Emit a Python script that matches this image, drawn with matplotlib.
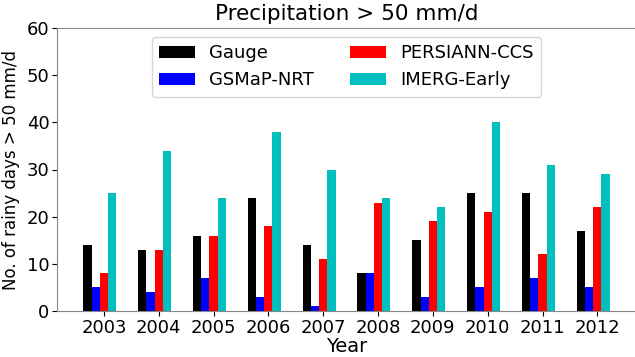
import matplotlib.pyplot as plt
import numpy as np

years = [2003, 2004, 2005, 2006, 2007, 2008, 2009, 2010, 2011, 2012]
gauge = [14, 13, 16, 24, 14, 8, 15, 25, 25, 17]
gsmap = [5, 4, 7, 3, 1, 8, 3, 5, 7, 5]
persiann = [8, 13, 16, 18, 11, 23, 19, 21, 12, 22]
imerg = [25, 34, 24, 38, 30, 24, 22, 40, 31, 29]

x = np.array(years)
w = 0.15

fig = plt.figure(figsize=(6.35, 3.57), dpi=100)
ax = fig.add_axes([57/635, 46/357, 579/635, 283/357])

ax.bar(x - 2*w, gauge, w, color='k', label='Gauge')
ax.bar(x - w, gsmap, w, color='b', label='GSMaP-NRT')
ax.bar(x, persiann, w, color='r', label='PERSIANN-CCS')
ax.bar(x + w, imerg, w, color='c', label='IMERG-Early')

ax.set_ylim(0, 60)
ax.set_xticks(years)
ax.tick_params(labelsize=13, pad=2)
for s in ax.spines.values():
    s.set_color('#888888')
ax.set_title('Precipitation > 50 mm/d', fontsize=15.5)
ax.set_xlabel('Year', fontsize=14, labelpad=0)
ax.set_ylabel('No. of rainy days > 50 mm/d', fontsize=12, labelpad=5)
ax.legend(ncol=2, fontsize=13, loc='upper center')

fig.savefig('out.png', dpi=100)
